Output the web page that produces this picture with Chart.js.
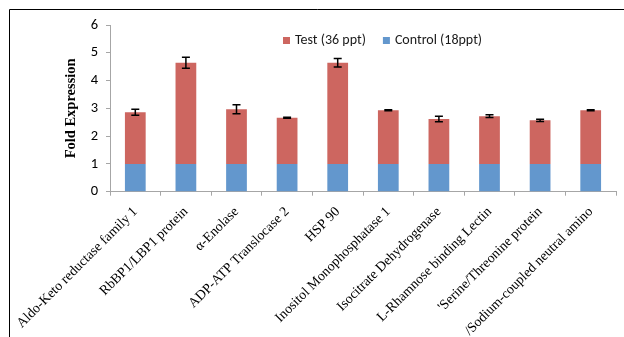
<!DOCTYPE html>
<html>
<head>
<meta charset="utf-8">
<script src="https://cdn.jsdelivr.net/npm/chart.js@4/dist/chart.umd.min.js"></script>
<style>
  html, body { margin: 0; padding: 0; background: #fff; }
  #wrap { width: 624px; height: 337px; position: relative; }
</style>
</head>
<body>
<div id="wrap"><canvas id="c" width="624" height="337"></canvas></div>
<script>
// Genes compared between the two salinity treatments
const categories = [
  'Aldo-Keto reductase family 1',
  'RbBP1/LBP1 protein',
  'α-Enolase',
  'ADP-ATP Translocase 2',
  'HSP 90',
  'Inositol Monophosphatase 1',
  'Isocitrate Dehydrogenase',
  'L-Rhamnose binding Lectin',
  "'Serine/Threonine protein",
  '/Sodium-coupled neutral amino'
];

// Control expression (baseline, stacked at the bottom)
const controlValues = [1, 1, 1, 1, 1, 1, 1, 1, 1, 1];
// Additional fold expression under the test treatment (stacked on top)
const testValues = [1.86, 3.64, 1.97, 1.66, 3.64, 1.93, 1.62, 1.72, 1.57, 1.93];
// Error (±) at the top of each stack
const testErrors = [0.11, 0.20, 0.16, 0.02, 0.15, 0.02, 0.10, 0.05, 0.04, 0.02];

const yTicks = [0, 1, 2, 3, 4, 5, 6];

const RED = 'rgb(205,102,96)';
const BLUE = 'rgb(99,151,205)';
const SANS = 'Carlito, Lato, "Liberation Sans", sans-serif';
const SERIF = '"Liberation Serif", "Times New Roman", serif';

// Outer frame around the figure
const framePlugin = {
  id: 'frame',
  afterDraw(chart) {
    const ctx = chart.ctx;
    ctx.save();
    ctx.strokeStyle = '#000';
    ctx.lineWidth = 1;
    ctx.beginPath();
    ctx.moveTo(9.5, chart.height + 2);
    ctx.lineTo(9.5, 9.5);
    ctx.lineTo(chart.width + 2, 9.5);
    ctx.stroke();
    ctx.restore();
  }
};

// Error bars on top of the stacked totals
const errorBarPlugin = {
  id: 'errorBars',
  afterDatasetsDraw(chart) {
    const ctx = chart.ctx;
    const y = chart.scales.y;
    const meta = chart.getDatasetMeta(1);
    ctx.save();
    ctx.strokeStyle = '#000';
    ctx.lineWidth = 1.5;
    meta.data.forEach((bar, i) => {
      const total = controlValues[i] + testValues[i];
      const yTop = y.getPixelForValue(total + testErrors[i]);
      const yBot = y.getPixelForValue(total - testErrors[i]);
      const x = bar.x;
      const cap = 4;
      ctx.beginPath();
      ctx.moveTo(x, yTop); ctx.lineTo(x, yBot);
      ctx.moveTo(x - cap, yTop); ctx.lineTo(x + cap, yTop);
      ctx.moveTo(x - cap, yBot); ctx.lineTo(x + cap, yBot);
      ctx.stroke();
    });
    ctx.restore();
  }
};

// Legend drawn inside the plot, test series first
const legendPlugin = {
  id: 'insideLegend',
  afterDraw(chart) {
    const ctx = chart.ctx;
    const items = chart.data.datasets.slice().reverse();
    ctx.save();
    ctx.font = '14px ' + SANS;
    ctx.textBaseline = 'middle';
    ctx.textAlign = 'left';
    let x = 283;
    const cy = 40.5;
    items.forEach(ds => {
      ctx.fillStyle = ds.backgroundColor;
      ctx.fillRect(x, cy - 3.5, 7, 7);
      ctx.fillStyle = '#1a1a1a';
      ctx.fillText(ds.label, x + 12, cy);
      x += 12 + ctx.measureText(ds.label).width + 17;
    });
    ctx.restore();
  }
};

new Chart(document.getElementById('c'), {
  type: 'bar',
  data: {
    labels: categories,
    datasets: [
      { label: 'Control (18ppt)', data: controlValues, backgroundColor: BLUE, stack: 's' },
      { label: 'Test (36 ppt)', data: testValues, backgroundColor: RED, stack: 's' }
    ]
  },
  options: {
    responsive: false,
    animation: false,
    devicePixelRatio: 1,
    layout: { padding: { left: 0, top: 25, right: 8, bottom: 0 } },
    datasets: { bar: { categoryPercentage: 1, barPercentage: 0.41 } },
    plugins: { legend: { display: false }, tooltip: { enabled: false } },
    scales: {
      x: {
        stacked: true,
        afterFit(scale) { scale.height = 145.3; },
        border: { color: '#a6a6a6', width: 1 },
        grid: { drawOnChartArea: false, drawTicks: true, tickLength: 4, color: '#a6a6a6', offset: true },
        ticks: {
          autoSkip: false, minRotation: 45, maxRotation: 45,
          color: '#000', padding: 8,
          font: { family: SERIF, size: 13.8 }
        }
      },
      y: {
        stacked: true,
        min: 0, max: 6,
        afterFit(scale) { scale.width = 110; },
        afterBuildTicks(scale) { scale.ticks = yTicks.map(v => ({ value: v })); },
        border: { color: '#a6a6a6', width: 1 },
        grid: { drawOnChartArea: false, drawTicks: true, tickLength: 4, color: '#a6a6a6' },
        ticks: { color: '#000', padding: 8, font: { family: SANS, size: 14.5 } },
        title: {
          display: true, text: 'Fold Expression', color: '#000',
          font: { family: SERIF, size: 14.5, weight: 'bold' },
          padding: { top: 63, bottom: 0 }
        }
      }
    }
  },
  plugins: [framePlugin, errorBarPlugin, legendPlugin]
});
</script>
</body>
</html>
